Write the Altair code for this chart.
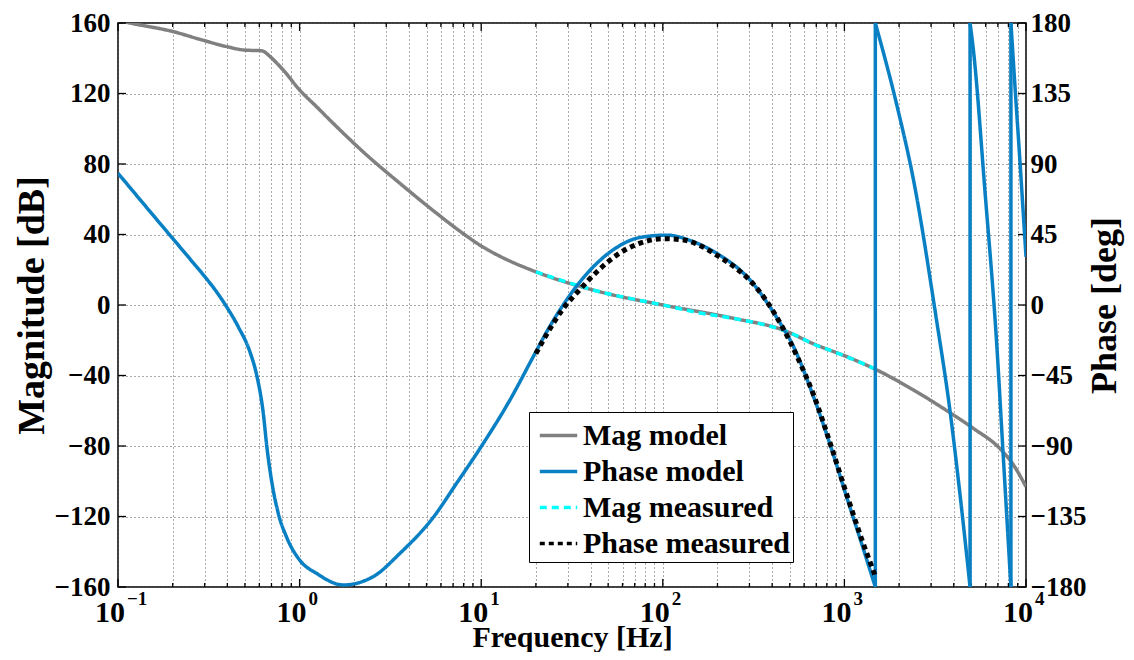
import altair as alt
import pandas as pd

FONT = "Liberation Serif"

# ---------------- data ----------------
mag_model_f = [0.1, 0.1164, 0.2016, 0.283, 0.397, 0.49, 0.62, 0.687, 0.748, 0.813, 1.0, 1.24,
               1.53, 2.34, 3.57, 5.45, 8.32, 10, 12.7, 19.8, 45, 100, 244, 460, 675, 1030,
               1443, 2400, 3800, 5130, 7190, 8500, 10000]
mag_model_db = [161.5, 160, 155.1, 150.7, 146.6, 144.7, 144.2, 141.0, 137.3, 133.3, 122, 112.5,
                103.1, 85.1, 69.0, 53.5, 39.1, 33.5, 27.6, 19.0, 7.5, 0.0, -7.5, -14.2, -22.0, -29.3,
                -35.9, -48.2, -61.0, -70.0, -81.5, -90.5, -103.1]

mag_meas_f = [20, 30, 45, 70, 100, 160, 244, 350, 460, 560, 675, 850, 1030, 1250, 1450]
mag_meas_db = [18.8, 12.8, 7.5, 3.2, 0.0, -4.5, -7.6, -10.8, -14.3, -18.0, -22.2, -26.0, -29.4,
               -33.0, -36.0]

phase_model_f = [0.1, 0.15, 0.2, 0.25, 0.3, 0.335, 0.397, 0.46, 0.533, 0.581, 0.631, 0.66, 0.70,
                 0.763, 0.846, 1.0, 1.24, 1.74, 2.54, 3.57, 5.45, 7.3, 10, 14.4, 19.8, 22.9, 28,
                 34.9, 45, 55.7, 74.8, 105, 147, 198, 302, 461, 501, 676, 850, 1028, 1250, 1480,
                 1480, 1940, 2400, 3200, 3800, 4400, 4920,
                 4920, 5130, 5940, 6890, 7500, 8260,
                 8260, 8690, 9270, 10000]
phase_model_deg = [84.1, 59.7, 42.5, 29.2, 18.2, 11.2, -1.3, -14, -30, -45, -69.1, -90.4, -111.7,
                   -133, -147.9, -162.8, -171.3, -178.7, -173.4, -158.5, -135.5, -114, -90.4, -60.6,
                   -30.8, -17.3, -0.7, 14.6, 28.4, 36.7, 43.1, 44.6, 40.4, 33, 16, -14.9, -22, -58.5,
                   -92, -122.4, -153, -180,
                   180, 128, 80, -8, -66, -128, -180,
                   180, 163, 73, -24, -97, -180,
                   180, 140, 91, 30.8]

phase_meas_f = [20, 23, 28, 35, 45, 56, 75, 100, 130, 160, 200, 250, 300, 370, 460, 560, 680, 850,
                1030, 1250, 1480]
phase_meas_deg = [-31, -18.5, -3, 10, 23, 32, 39.5, 42.3, 41.5, 38, 31.5, 24, 16, 3, -15, -35, -58,
                  -91, -121, -150, -173]

series_names = ["Mag model", "Phase model", "Mag measured", "Phase measured"]
series_colors = ["#808080", "#0a80c4", "#00ffff", "#000000"]
series_dash = [[1, 0], [1, 0], [7, 5], [5, 4]]

decade_ticks = [0.1, 1, 10, 100, 1000, 10000]
decade_exponents = ["\u22121", "0", "1", "2", "3", "4"]
minor_ticks = [k * 10 ** e if e >= 0 else k / 10 for e in range(-1, 4) for k in range(2, 10)]
mag_ticks = [-160, -120, -80, -40, 0, 40, 80, 120, 160]
phase_ticks = [-180, -135, -90, -45, 0, 45, 90, 135, 180]


def series_frame(f, v, name):
    # split at phase wraps (repeated frequency) so that each piece is smooth;
    # the wrap itself is kept as its own two-point vertical piece
    rows = []
    seg = 0
    for i, (fi, vi) in enumerate(zip(f, v)):
        if i > 0 and fi == f[i - 1]:
            seg += 1
            rows.append(dict(f=f[i - 1], v=v[i - 1], seg=seg, i=2 * i - 1, series=name))
            rows.append(dict(f=fi, v=vi, seg=seg, i=2 * i, series=name))
            seg += 1
        rows.append(dict(f=fi, v=vi, seg=seg, i=2 * i + 1, series=name))
    return pd.DataFrame(rows)


W, H = 908, 564

x_scale = alt.Scale(type="log", domain=[0.1, 10000], nice=False)
x_axis = alt.Axis(values=sorted(decade_ticks + minor_ticks), labels=False, ticks=False, domain=False,
                  grid=True, gridDash=[1, 3], gridColor="#555555", gridWidth=1,
                  title="Frequency [Hz]", titleFont=FONT, titleFontSize=30, titleFontWeight="bold",
                  titleColor="black", titleY=59, titleBaseline="alphabetic")

mag_scale = alt.Scale(domain=[-160, 160], nice=False, zero=False)
mag_axis = alt.Axis(values=mag_ticks, orient="left", ticks=False, domain=False, grid=True,
                    gridDash=[1, 3], gridColor="#555555", gridWidth=1,
                    labelFont=FONT, labelFontSize=27, labelFontWeight="bold", labelColor="black",
                    labelPadding=8, labelFlush=False, labelOverlap=False,
                    title="Magnitude [dB]", titleFont=FONT, titleFontSize=38, titleFontWeight="bold",
                    titleColor="black", titleAngle=270, titleX=-75, titleY=H / 2,
                    titleAlign="center", titleBaseline="alphabetic")

phase_scale = alt.Scale(domain=[-180, 180], nice=False, zero=False)
phase_axis = alt.Axis(values=phase_ticks, orient="right", ticks=False, domain=False, grid=False,
                      labelFont=FONT, labelFontSize=27, labelFontWeight="bold", labelColor="black",
                      labelPadding=4, labelFlush=False, labelOverlap=False,
                      title="Phase [deg]", titleFont=FONT, titleFontSize=36, titleFontWeight="bold",
                      titleColor="black", titleAngle=270, titleX=89, titleY=H / 2,
                      titleAlign="center", titleBaseline="alphabetic")

legend = alt.Legend(title=None, orient="none", legendX=411, legendY=389, direction="vertical",
                    fillColor="white", strokeColor="black", padding=3, symbolOffset=6,
                    labelFont=FONT, labelFontSize=30, labelFontWeight="bold", labelColor="black",
                    labelOffset=4, labelLimit=500, symbolType="stroke", symbolSize=1400,
                    symbolStrokeWidth=3.5, rowPadding=0, cornerRadius=0)

color_enc = alt.Color("series:N", scale=alt.Scale(domain=series_names, range=series_colors), legend=legend)
dash_enc = alt.StrokeDash("series:N", scale=alt.Scale(domain=series_names, range=series_dash), legend=legend)
X = alt.X("f:Q", scale=x_scale, axis=x_axis)


def line_layer(df, yscale, yaxis, width):
    return alt.Chart(df).mark_line(strokeWidth=width, clip=True, interpolate="monotone").encode(
        x=X,
        y=alt.Y("v:Q", scale=yscale, axis=yaxis),
        color=color_enc,
        strokeDash=dash_enc,
        detail="seg:N",
        order=alt.Order("i:Q"),
    )


mag_model = line_layer(series_frame(mag_model_f, mag_model_db, "Mag model"), mag_scale, mag_axis, 3.5)
mag_meas = line_layer(series_frame(mag_meas_f, mag_meas_db, "Mag measured"), mag_scale, mag_axis, 3.5)
phase_model = line_layer(series_frame(phase_model_f, phase_model_deg, "Phase model"), phase_scale, phase_axis, 3.5)
phase_meas = line_layer(series_frame(phase_meas_f, phase_meas_deg, "Phase measured"), phase_scale, phase_axis, 5)

# inward ticks (box style)
major_df = pd.DataFrame({"f": decade_ticks})
minor_df = pd.DataFrame({"f": minor_ticks})
ytick_df = pd.DataFrame({"v": mag_ticks})
tick_style = dict(color="black", strokeWidth=1.3)
ticks = [
    alt.Chart(major_df).mark_rule(**tick_style).encode(x=X, y=alt.value(H), y2=alt.value(H - 8)),
    alt.Chart(major_df).mark_rule(**tick_style).encode(x=X, y=alt.value(0), y2=alt.value(8)),
    alt.Chart(minor_df).mark_rule(**tick_style).encode(x=X, y=alt.value(H), y2=alt.value(H - 4)),
    alt.Chart(minor_df).mark_rule(**tick_style).encode(x=X, y=alt.value(0), y2=alt.value(4)),
    alt.Chart(ytick_df).mark_rule(**tick_style).encode(
        y=alt.Y("v:Q", scale=mag_scale, axis=mag_axis), x=alt.value(0), x2=alt.value(8)),
    alt.Chart(ytick_df).mark_rule(**tick_style).encode(
        y=alt.Y("v:Q", scale=mag_scale, axis=mag_axis), x=alt.value(W - 8), x2=alt.value(W)),
]

# x tick labels 10^n drawn as base + superscript
lab_df = pd.DataFrame({"f": decade_ticks, "base": ["10"] * len(decade_ticks), "exp": decade_exponents})
base_lab = alt.Chart(lab_df).mark_text(align="right", baseline="alphabetic", dx=7, font=FONT,
                                        fontSize=30, fontWeight="bold", color="black").encode(
    x=X, y=alt.value(H + 35), text="base:N")
exp_lab = alt.Chart(lab_df).mark_text(align="left", baseline="alphabetic", dx=9, font=FONT,
                                       fontSize=19, fontWeight="bold", color="black").encode(
    x=X, y=alt.value(H + 18), text="exp:N")

mag_group = alt.layer(mag_model, mag_meas, *ticks, base_lab, exp_lab)
phase_group = alt.layer(phase_model, phase_meas)

chart = alt.layer(mag_group, phase_group).resolve_scale(y="independent").properties(
    width=W, height=H,
    autosize=alt.AutoSizeParams(type="none"),
    padding={"left": 110, "top": 15, "right": 100, "bottom": 65},
    background="white",
).configure_view(stroke="black", strokeWidth=1.5)

chart.save("out.html", embed_options={"renderer": "svg", "actions": False})
